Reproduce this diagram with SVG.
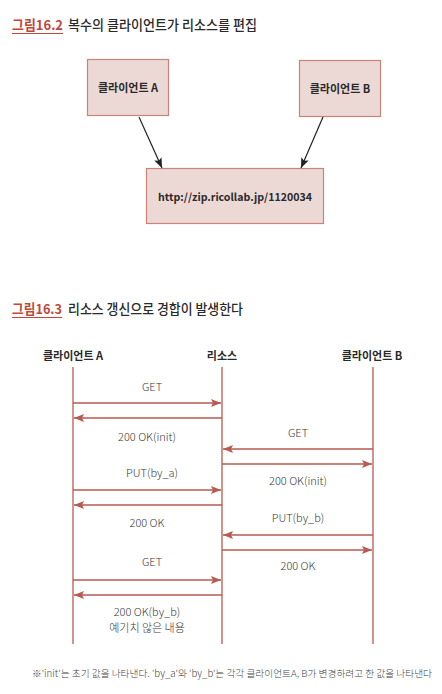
<svg xmlns="http://www.w3.org/2000/svg" width="442" height="694" viewBox="0 0 442 694">
<defs>
<style>
text{font-family:"Noto Sans CJK KR","Noto Sans",sans-serif;fill:#2a2a2a}
.ttl{font-size:13.5px;font-weight:500}
.fig{font-size:13.5px;font-weight:700;fill:#c0473b}
.box{fill:#ecd9d6;stroke:#c9837a;stroke-width:1.2}
.bl{font-size:11px;font-weight:700;text-anchor:middle}
.hd{font-size:11px;font-weight:700;text-anchor:middle}
.lb{font-size:11px;font-weight:300;text-anchor:middle;fill:#3a3a3a}
.life{stroke:#b85a50;stroke-width:1.3}
.msg{stroke:#b85a50;stroke-width:1.3;marker-end:url(#rh)}
.blk{stroke:#222;stroke-width:1.2;marker-end:url(#bh)}
.fn{font-size:9.5px;font-weight:300;fill:#444}
</style>
<marker id="rh" viewBox="0 0 10 8" refX="10" refY="4" markerWidth="10" markerHeight="8" markerUnits="userSpaceOnUse" orient="auto">
<path d="M0,0 L10,4 L0,8 L2,4 Z" fill="#b85a50"/>
</marker>
<marker id="bh" viewBox="0 0 10 8" refX="10" refY="4" markerWidth="10" markerHeight="8" markerUnits="userSpaceOnUse" orient="auto">
<path d="M0,0 L10,4 L0,8 L2,4 Z" fill="#222"/>
</marker>
</defs>
<rect width="442" height="694" fill="#ffffff"/>

<g id="title1">
<text x="12" y="30" class="fig" textLength="51" lengthAdjust="spacingAndGlyphs">그림16.2</text>
<text x="68" y="30" class="ttl" textLength="189" lengthAdjust="spacingAndGlyphs">복수의 클라이언트가 리소스를 편집</text>
<line x1="12" y1="33.5" x2="63" y2="33.5" stroke="#c0473b" stroke-width="1.2"/>
</g>

<g id="clientA">
<rect x="87.5" y="59.5" width="81" height="56" class="box"/>
<text x="128" y="92" class="bl">클라이언트 A</text>
</g>
<g id="clientB">
<rect x="299.5" y="60.5" width="81" height="56" class="box"/>
<text x="340" y="93" class="bl">클라이언트 B</text>
</g>
<g id="resource">
<rect x="146.5" y="168.5" width="177" height="55" class="box"/>
<text x="235" y="201" class="bl" style="font-size:10.6px">http://zip.ricollab.jp/1120034</text>
</g>
<g id="connectors1">
<line x1="139" y1="117" x2="162" y2="168" class="blk"/>
<line x1="323" y1="117" x2="301" y2="168" class="blk"/>
</g>

<g id="title2">
<text x="12" y="314" class="fig" textLength="50" lengthAdjust="spacingAndGlyphs">그림16.3</text>
<text x="68" y="314" class="ttl" textLength="175" lengthAdjust="spacingAndGlyphs">리소스 갱신으로 경합이 발생한다</text>
<line x1="12" y1="317.5" x2="62" y2="317.5" stroke="#c0473b" stroke-width="1.2"/>
</g>

<g id="lifeA">
<text x="73" y="360" class="hd">클라이언트 A</text>
<line x1="73" y1="367" x2="73" y2="644" class="life"/>
</g>
<g id="lifeR">
<text x="222" y="360" class="hd">리소스</text>
<line x1="222" y1="367" x2="222" y2="644" class="life"/>
</g>
<g id="lifeB">
<text x="372" y="360" class="hd">클라이언트 B</text>
<line x1="373" y1="367" x2="373" y2="644" class="life"/>
</g>

<g id="messages">
<text x="152" y="391" class="lb">GET</text>
<line x1="73" y1="403" x2="221" y2="403" class="msg"/>
<line x1="222" y1="418" x2="74" y2="418" class="msg"/>
<text x="147" y="441" class="lb">200 OK(init)</text>

<text x="298" y="437" class="lb">GET</text>
<line x1="373" y1="449" x2="223" y2="449" class="msg"/>
<line x1="222" y1="464" x2="372" y2="464" class="msg"/>
<text x="298" y="485" class="lb">200 OK(init)</text>

<text x="152" y="477" class="lb">PUT(by_a)</text>
<line x1="73" y1="490" x2="221" y2="490" class="msg"/>
<line x1="222" y1="505" x2="74" y2="505" class="msg"/>
<text x="147" y="527" class="lb">200 OK</text>

<text x="298" y="522" class="lb">PUT(by_b)</text>
<line x1="373" y1="535" x2="223" y2="535" class="msg"/>
<line x1="222" y1="550" x2="372" y2="550" class="msg"/>
<text x="298" y="570" class="lb">200 OK</text>

<text x="152" y="566" class="lb">GET</text>
<line x1="73" y1="580" x2="221" y2="580" class="msg"/>
<line x1="222" y1="595" x2="74" y2="595" class="msg"/>
<text x="147" y="616" class="lb">200 OK(by_b)</text>
<text x="147" y="632" class="lb">예기치 않은 내용</text>
</g>

<g id="footnote">
<text x="32" y="677" class="fn" textLength="400" lengthAdjust="spacingAndGlyphs">※'init'는 초기 값을 나타낸다. 'by_a'와 'by_b'는 각각 클라이언트A, B가 변경하려고 한 값을 나타낸다</text>
</g>
</svg>
